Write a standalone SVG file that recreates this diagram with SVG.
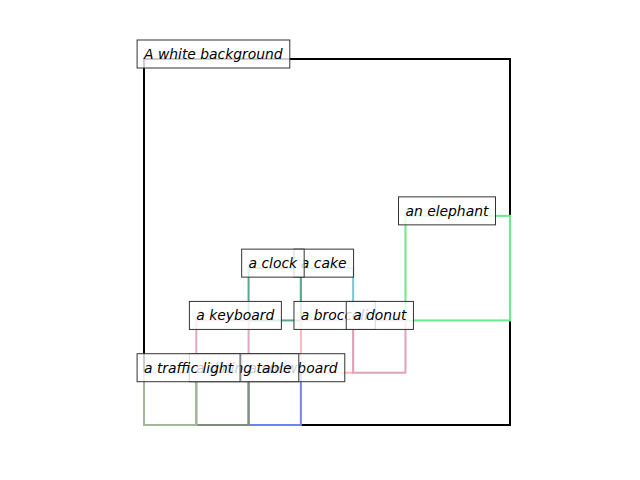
<svg xmlns="http://www.w3.org/2000/svg" width="640" height="480" viewBox="0 0 640 480">
<style>
.box{fill:none;stroke-width:2}
.lbl rect{fill:#ffffff;fill-opacity:0.8;stroke:#333333;stroke-width:1}
.lbl text{font-family:"DejaVu Sans","Liberation Sans",sans-serif;font-style:italic;font-size:13.89px;fill:#000000}
</style>
<rect width="640" height="480" fill="#ffffff"/>
<g id="boxes">
  <g id="white-background"><rect class="box" x="144" y="59" width="366" height="366" stroke="#000000"/></g>
  <g id="elephant"><rect class="box" x="405.43" y="215.86" width="104.57" height="104.57" stroke="#6aea8a"/></g>
  <g id="cake"><rect class="box" x="300.86" y="268.14" width="52.28" height="52.29" stroke="#72c8d8"/></g>
  <g id="clock"><rect class="box" x="248.57" y="268.14" width="52.29" height="52.29" stroke="#5ca68c"/></g>
  <g id="keyboard"><rect class="box" x="196.29" y="320.43" width="52.28" height="52.28" stroke="#e2a8c0"/></g>
  <g id="broccoli"><rect class="box" x="300.86" y="320.43" width="52.28" height="52.28" stroke="#ffb6ba"/></g>
  <g id="donut"><rect class="box" x="353.14" y="320.43" width="52.29" height="52.28" stroke="#dea2b8"/></g>
  <g id="snowboard"><rect class="box" x="248.57" y="372.71" width="52.29" height="52.29" stroke="#7282f0"/></g>
  <g id="dining-table"><rect class="box" x="196.29" y="372.71" width="52.28" height="52.29" stroke="#7d8e7a"/></g>
  <g id="traffic-light"><rect class="box" x="144" y="372.71" width="52.29" height="52.29" stroke="#a2b89a"/></g>
</g>
<g id="labels">
  <g id="label-white-background" class="lbl"><rect x="137.1" y="40" width="152.7" height="28"/><text x="144" y="58.8">A white background</text></g>
  <g id="label-elephant" class="lbl"><rect x="398.5" y="196.86" width="97" height="28"/><text x="405.43" y="215.66">an elephant</text></g>
  <g id="label-cake" class="lbl"><rect x="293.96" y="249.14" width="59.6" height="28"/><text x="300.86" y="267.94">a cake</text></g>
  <g id="label-clock" class="lbl"><rect x="241.67" y="249.14" width="62.5" height="28"/><text x="248.57" y="267.94">a clock</text></g>
  <g id="label-snowboard" class="lbl"><rect x="241.67" y="353.71" width="103.1" height="28"/><text x="248.57" y="372.51">a snowboard</text></g>
  <g id="label-dining-table" class="lbl"><rect x="189.39" y="353.71" width="109.4" height="28"/><text x="196.29" y="372.51">a dining table</text></g>
  <g id="label-traffic-light" class="lbl"><rect x="137.1" y="353.71" width="103" height="28"/><text x="144" y="372.51">a traffic light</text></g>
  <g id="label-keyboard" class="lbl"><rect x="189.39" y="301.43" width="92" height="28"/><text x="196.29" y="320.23">a keyboard</text></g>
  <g id="label-broccoli" class="lbl"><rect x="293.96" y="301.43" width="81.3" height="28"/><text x="300.86" y="320.23">a broccoli</text></g>
  <g id="label-donut" class="lbl"><rect x="346.24" y="301.43" width="67.2" height="28"/><text x="353.14" y="320.23">a donut</text></g>
</g>
</svg>
